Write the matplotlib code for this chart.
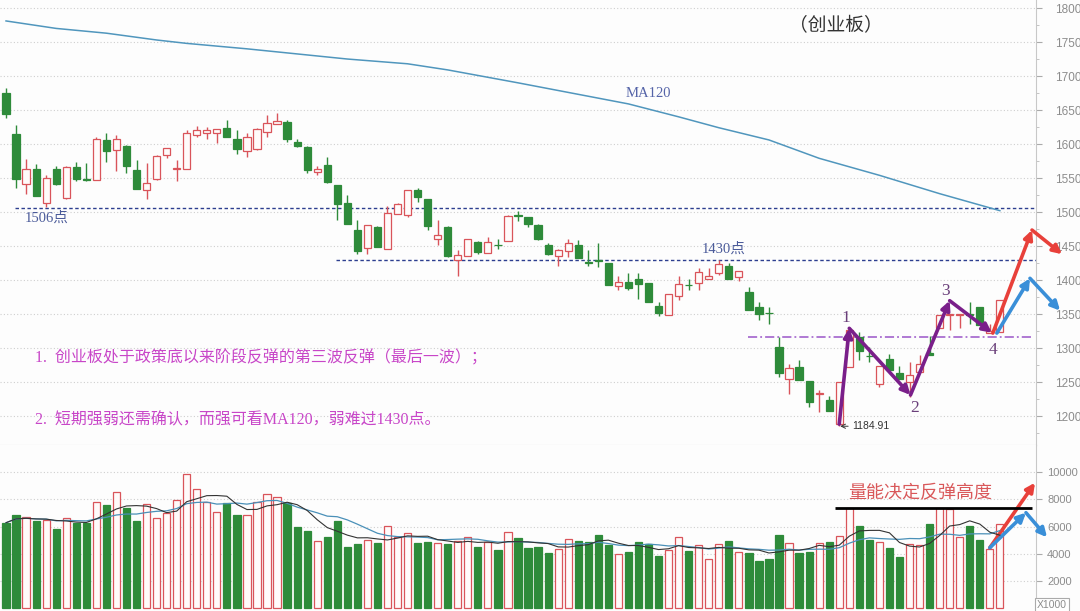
import numpy as np
import pandas as pd
import matplotlib
matplotlib.use("Agg")
import matplotlib.pyplot as plt

plt.rcParams['font.family'] = ['Liberation Sans', 'Noto Sans CJK SC']
SERIF = ['Liberation Serif', 'Noto Sans CJK SC']

# daily candles of the ChiNext index
opens = [1675, 1615, 1541, 1563, 1514, 1564, 1520, 1566, 1548, 1547,
         1606, 1591, 1597, 1562, 1533, 1548, 1584, 1563, 1564, 1613,
         1616, 1616, 1623, 1608, 1590, 1593, 1617, 1629, 1633, 1603,
         1595, 1559, 1569, 1540, 1514, 1474, 1447, 1478, 1445, 1497,
         1495, 1532, 1519, 1460, 1478, 1430, 1436, 1456, 1440, 1452,
         1458, 1495, 1492, 1481, 1452, 1435, 1443, 1452, 1426, 1429,
         1425, 1391, 1397, 1402, 1395, 1362, 1349, 1376, 1393, 1395,
         1401, 1410, 1420, 1405, 1382, 1360, 1352, 1301, 1255, 1272,
         1252, 1232, 1223, 1189, 1272, 1316, 1289, 1247, 1284, 1264,
         1250, 1265, 1293, 1329, 1348.5, 1348, 1350, 1360, 1322, 1324]
highs = [1682, 1628, 1578, 1571, 1554, 1568, 1567, 1574, 1572, 1610,
         1616, 1613, 1598, 1577, 1572, 1584, 1594, 1576, 1621, 1627,
         1625, 1622, 1636, 1621, 1616, 1623, 1643, 1645, 1636, 1607,
         1597, 1568, 1581, 1540, 1525, 1488, 1481, 1479, 1509, 1514,
         1533, 1535, 1519, 1489, 1479, 1444, 1461, 1458, 1464, 1461,
         1495, 1501, 1492, 1483, 1454, 1445, 1461, 1459, 1444, 1455,
         1425, 1406, 1410, 1411, 1395, 1367, 1379, 1406, 1402, 1417,
         1417, 1429, 1425, 1413, 1390, 1368, 1360, 1316, 1277, 1283,
         1252, 1238, 1230, 1250, 1326, 1323, 1302, 1274, 1291, 1274,
         1280, 1290, 1317, 1349, 1350, 1350, 1368, 1361, 1336, 1371]
lows = [1639, 1535, 1527, 1523, 1508, 1540, 1519, 1545, 1545, 1547,
        1574, 1561, 1558, 1534, 1519, 1547, 1579, 1545, 1564, 1611,
        1608, 1601, 1610, 1585, 1581, 1591, 1610, 1629, 1603, 1595,
        1557, 1554, 1543, 1488, 1483, 1439, 1438, 1449, 1445, 1497,
        1493, 1515, 1474, 1451, 1434, 1406, 1436, 1439, 1440, 1445,
        1458, 1487, 1478, 1459, 1437, 1420, 1434, 1432, 1420, 1419,
        1392, 1385, 1385, 1372, 1368, 1347, 1349, 1371, 1386, 1385,
        1401, 1407, 1401, 1398, 1356, 1341, 1336, 1258, 1233, 1253,
        1214, 1206, 1208, 1184.91, 1272, 1283, 1280, 1243, 1266, 1254,
        1228, 1265, 1290, 1329, 1327, 1329, 1335, 1334, 1322, 1324]
closes = [1644, 1548, 1564, 1524, 1550, 1541, 1566, 1548, 1547, 1608,
          1590, 1607, 1568, 1534, 1542, 1583, 1594, 1565, 1616, 1621,
          1620, 1622, 1610, 1592, 1611, 1622, 1631, 1634, 1608, 1597,
          1562, 1564, 1544, 1512, 1483, 1443, 1481, 1449, 1499, 1512,
          1532, 1522, 1480, 1466, 1435, 1437, 1460, 1441, 1456, 1451,
          1494, 1494, 1483, 1460, 1438, 1444, 1455, 1432, 1425, 1428,
          1393, 1397, 1388, 1394, 1368, 1352, 1379, 1394, 1392, 1412,
          1406, 1423, 1401, 1413, 1356, 1350, 1351, 1264, 1270, 1253,
          1220, 1234, 1208, 1250, 1326, 1295, 1288, 1274, 1267, 1254,
          1261, 1277, 1290, 1349, 1350, 1350, 1349, 1334, 1325, 1370]

# traded volume, x1000
volumes = [6280, 6850, 6680, 6430, 6480, 5790, 6650, 6280, 6280, 7830,
           7560, 8520, 7390, 6410, 7640, 6650, 7020, 7960, 9880, 8740,
           7780, 7070, 7710, 6850, 6850, 7830, 8370, 8150, 7760, 5940,
           5690, 4960, 5250, 6410, 4510, 4680, 5000, 4810, 6040, 5200,
           5500, 4810, 4880, 4760, 4710, 4960, 5200, 4510, 4880, 4270,
           5590, 5150, 4440, 4510, 4020, 4360, 5080, 4960, 4880, 5400,
           4640, 3970, 4090, 4880, 4730, 3820, 4270, 5250, 4170, 4610,
           3580, 4680, 4960, 4140, 4020, 3480, 3630, 5370, 4760, 4020,
           4090, 4810, 4860, 5320, 7340, 6040, 5000, 4880, 4410, 3770,
           4710, 4660, 6190, 7340, 7270, 5250, 6040, 5000, 4340, 6160]

# MA120 read at a few days
ma120_day = [0, 5, 10, 15, 18, 24, 34, 40, 44, 51, 62, 67, 71, 76, 81, 87, 93, 99]
ma120_val = [1781, 1770, 1763, 1753, 1748, 1740, 1725, 1718, 1709, 1690,
             1659, 1640, 1624, 1606, 1579, 1554, 1527, 1502]

# wave annotations (day, index level)
wave_x = [83.0, 84.0, 90.1, 94.0, 98.2]
wave_y = [1188, 1329, 1231, 1369.6, 1322.5]
bull_x = [98.3, 102.2, 105.2]
bull_y = [1322, 1473.5, 1438]
bear_x = [98.7, 102.0, 105.0]
bear_y = [1322, 1402.5, 1355]

RED = '#d9545a'
GREEN = '#2e8b3a'
BG = '#fdfdfd'

x = np.arange(len(closes))
o = np.array(opens)
c = np.array(closes)
up = c > o

fig = plt.figure(figsize=(10.8, 6.11), dpi=100, facecolor=BG)
ax = fig.add_axes([0, 1 - 445 / 611, 1036 / 1080, 445 / 611], facecolor=BG)
axv = fig.add_axes([0, 0, 1036 / 1080, 166 / 611], facecolor=BG)

# candles
wick_col = np.where(up, RED, GREEN)
ax.vlines(x, lows, highs, colors=wick_col, lw=1, zorder=2)
body_h = np.maximum(np.abs(c - o), 0.6)
ax.bar(x, body_h, bottom=np.minimum(o, c), width=0.72,
       color=np.where(up, '#fffafa', GREEN), edgecolor=wick_col, lw=0.9, zorder=3)

ax.plot(ma120_day, ma120_val, color='#5096bd', lw=1.1, zorder=2)
ax.text(61.7, 1674, 'MA120', color='#5564a8', fontsize=10.5, family=SERIF,
        ha='left', va='center')

# support / resistance lines
ax.hlines(1506, 0.9, 102.6, colors='#2c3e8f', lw=1, linestyles=(0, (2.5, 1.8)), zorder=1)
ax.hlines(1430, 32.9, 102.6, colors='#2c3e8f', lw=1, linestyles=(0, (2.5, 1.8)), zorder=1)
ax.hlines(1316.6, 73.9, 102.3, colors='#9a55c8', lw=1.1, linestyles=(0, (6, 2, 1.2, 2)), zorder=1)
ax.text(1.9, 1491, '1506点', color='#4b5b9a', fontsize=10.5, family=SERIF, va='center')
ax.text(69.3, 1446, '1430点', color='#4b5b9a', fontsize=10.5, family=SERIF, va='center')

ax.text(82.7, 1773.5, '（创业板）', color='#333333', fontsize=13.5, ha='center', va='center')

txt_col = '#c846c8'
ax.text(2.9, 1285, '1.  创业板处于政策底以来阶段反弹的第三波反弹（最后一波）；',
        color=txt_col, fontsize=11.5, family=SERIF, va='center')
ax.text(2.9, 1194, '2.  短期强弱还需确认，而强可看MA120，弱难过1430点。',
        color=txt_col, fontsize=11.5, family=SERIF, va='center')

ax.annotate('1184.91', xy=(83.1, 1185), xytext=(84.3, 1185), fontsize=7.5,
            color='#333333', va='center', ha='left',
            arrowprops=dict(arrowstyle='->', lw=0.7, color='#333333',
                            shrinkA=1, shrinkB=0))


def arrow(a, p0, p1, col, lw=2.6):
    a.annotate('', xy=p1, xytext=p0, annotation_clip=False,
               arrowprops=dict(arrowstyle='-|>', color=col, lw=lw,
                               mutation_scale=13, shrinkA=0, shrinkB=0))


for i in range(len(wave_x) - 1):
    arrow(ax, (wave_x[i], wave_y[i]), (wave_x[i + 1], wave_y[i + 1]), '#7a1f8a')
for i in range(2):
    arrow(ax, (bull_x[i], bull_y[i]), (bull_x[i + 1], bull_y[i + 1]), '#e8403a')
    arrow(ax, (bear_x[i], bear_y[i]), (bear_x[i + 1], bear_y[i + 1]), '#3a8fd8')

for lab, lx, ly in [('1', 83.7, 1344), ('2', 90.5, 1212), ('3', 93.6, 1384), ('4', 98.3, 1297)]:
    ax.text(lx, ly, lab, color='#6a3f7a', fontsize=12.5, family=SERIF, ha='center', va='center')

ax.set_xlim(-0.6, 102.6)
ax.set_ylim(1157.4, 1811.8)
ax.set_yticks(range(1200, 1801, 50))
ax.set_yticks(range(1175, 1801, 25), minor=True)
ax.set_xticks([])
ax.yaxis.tick_right()
ax.tick_params(axis='y', which='major', length=4, color='#aaaaaa', labelcolor='#8c8c8c',
               labelsize=8.5, pad=10)
ax.tick_params(axis='y', which='minor', length=2, color='#bbbbbb')
ax.grid(axis='y', which='major', ls=(0, (1, 2)), color='#cfcfcf', lw=0.8)
for s in ['top', 'left']:
    ax.spines[s].set_visible(False)
ax.spines['right'].set_color('#c8c8c8')
ax.spines['bottom'].set_color('#d0d0d0')

# volume panel
v = np.array(volumes)
axv.bar(x, v, width=0.72, color=np.where(up, '#fffafa', GREEN),
        edgecolor=np.where(up, RED, GREEN), lw=0.9, zorder=3)
vs = pd.Series(v)
axv.plot(x, vs.rolling(10, min_periods=1).mean(), color='#4a90b8', lw=0.9, zorder=4)
axv.plot(x, vs.rolling(5, min_periods=1).mean(), color='#333333', lw=0.8, zorder=4)

axv.hlines(7365, 82.6, 102.2, colors='black', lw=2, zorder=5)
axv.text(91.1, 8435, '量能决定反弹高度', color='#d9585a', fontsize=13, ha='center', va='center')
arrow(axv, (98.0, 4435), (102.5, 9232), '#e8403a')
arrow(axv, (98.0, 4435), (101.6, 7018), '#3a8fd8')
arrow(axv, (101.6, 7018), (103.7, 5203), '#3a8fd8')

axv.set_xlim(-0.6, 102.6)
axv.set_ylim(-236, 12015)
axv.set_yticks(range(2000, 10001, 2000))
axv.set_xticks([])
axv.yaxis.tick_right()
axv.tick_params(axis='y', length=4, color='#aaaaaa', labelcolor='#8c8c8c',
                labelsize=8, pad=4)
axv.grid(axis='y', ls=(0, (1, 2)), color='#cfcfcf', lw=0.8)
for s in ['top', 'left', 'bottom']:
    axv.spines[s].set_visible(False)
axv.spines['right'].set_color('#c8c8c8')

fig.text(1052 / 1080, 1 - 605 / 611, 'X1000', color='#8c8c8c', fontsize=7.5,
         ha='center', va='center',
         bbox=dict(boxstyle='square,pad=0.2', fc='white', ec='#aaaaaa', lw=0.8))

fig.savefig('out.png', dpi=100, facecolor=BG)
